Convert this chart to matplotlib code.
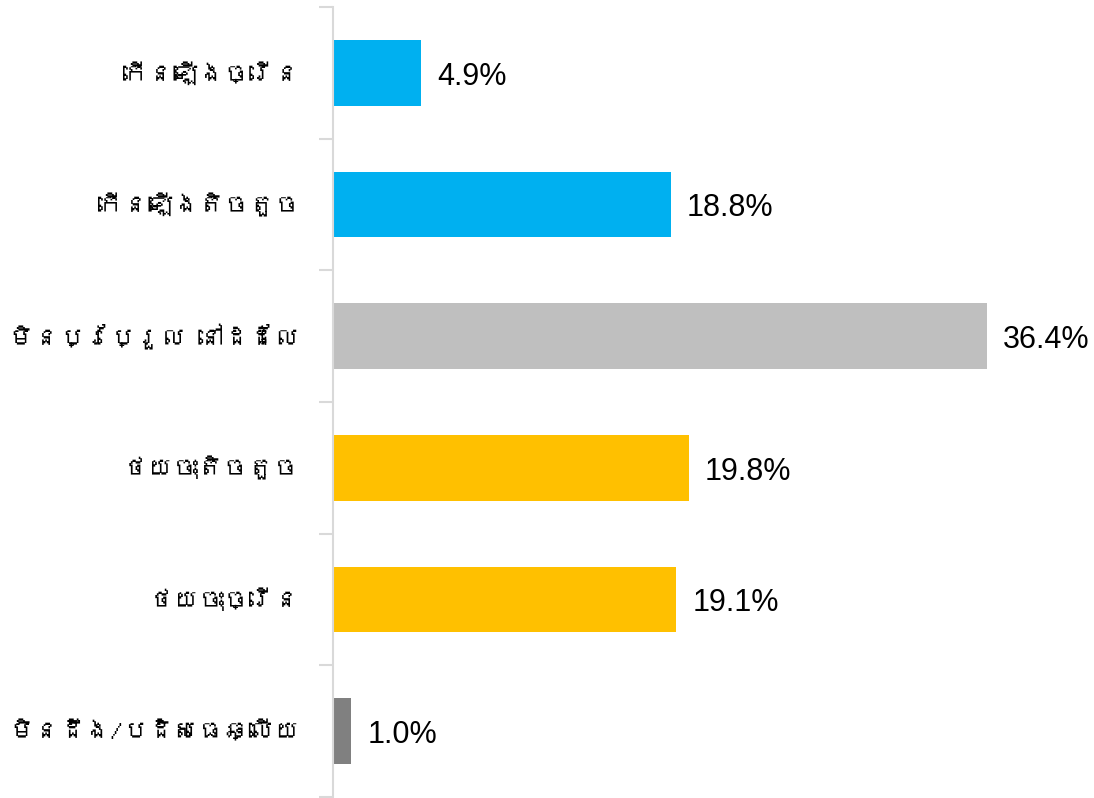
import matplotlib
matplotlib.use("Agg")
import matplotlib.pyplot as plt
from matplotlib import font_manager
from fontTools.ttLib import TTFont

# categories top to bottom
labels = ['កើនឡើងច្រើន', 'កើនឡើងតិចតួច', 'មិនប្រែប្រួល នៅដដែល',
          'ថយចុះតិចតួច', 'ថយចុះច្រើន', 'មិនដឹង/បដិសេធឆ្លើយ']
values = [4.9, 18.8, 36.4, 19.8, 19.1, 1.0]
colors = ['#00B0F0', '#00B0F0', '#BFBFBF', '#FFC000', '#FFC000', '#808080']

# look for installed fonts with Khmer glyphs; prefer one whose vowel marks
# have zero advance so they sit on the consonant without shaping
found = []
for path in font_manager.findSystemFonts():
    try:
        f = TTFont(path, fontNumber=0, lazy=True)
        cmap = f.getBestCmap()
        if 0x1780 in cmap:
            adv = f['hmtx'][cmap.get(0x17B7, cmap[0x1780])][0]
            found.append((adv != 0, path))
    except Exception:
        pass
found.sort()
khmer_font = font_manager.FontProperties(fname=found[0][1]).get_name() if found else None

num_family = ['Liberation Sans Narrow', 'Liberation Sans', 'DejaVu Sans']
lab_family = ([khmer_font] if khmer_font else []) + ['DejaVu Sans']

fig = plt.figure(figsize=(10.94, 7.98), dpi=100)
ax = fig.add_axes([0.3044, 0.00125, 0.6956, 0.99])

y = list(range(len(values)))
ax.barh(y, values, height=0.5, color=colors)
ax.set_ylim(len(values) - 0.5, -0.5)
ax.set_xlim(0, 42.35)

for i, v in enumerate(values):
    ax.text(v + 0.9, i + 0.03, f"{v:.1f}%", va='center', ha='left',
            fontsize=22, family=num_family)

for s in ['top', 'right', 'bottom']:
    ax.spines[s].set_visible(False)
ax.spines['left'].set_color('#D9D9D9')
ax.spines['left'].set_linewidth(1.5)
ax.set_xticks([])

# ticks between categories, labels at centres
ax.set_yticks([i - 0.5 for i in range(len(values) + 1)])
ax.set_yticklabels([])
ax.tick_params(axis='y', length=10, width=1.5, color='#D9D9D9')
texts = []
for i, lab in enumerate(labels):
    texts.append(ax.text(-1.85, i, lab, ha='right', va='center', fontsize=21,
                         family=lab_family))

# unshaped khmer runs wider than the original, so shrink labels to fit
fig.canvas.draw()
r = fig.canvas.get_renderer()
widest = max(t.get_window_extent(r).width for t in texts)
size = min(21, 21 * 290 / widest)
for t in texts:
    t.set_fontsize(size)

fig.savefig('out.png', dpi=100)
